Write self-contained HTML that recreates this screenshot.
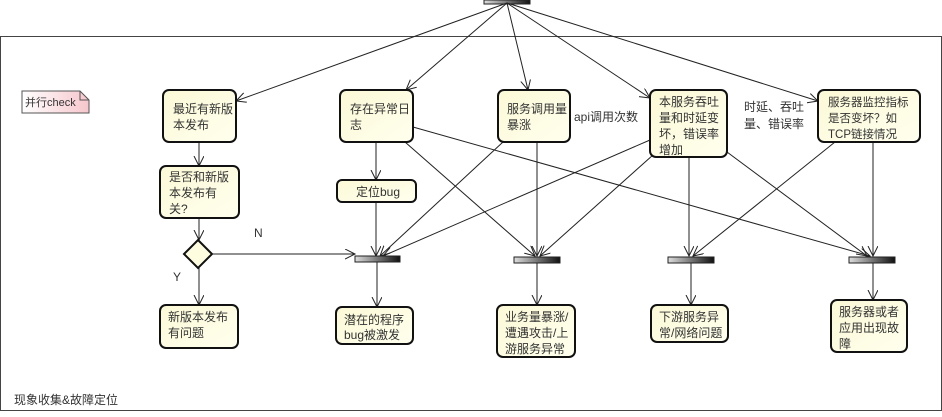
<!DOCTYPE html>
<html><head><meta charset="utf-8"><style>
html,body{margin:0;padding:0;background:#fff;}
svg text{font-family:"Liberation Sans","Noto Sans CJK SC",sans-serif;font-size:12px;fill:#333;}
</style></head><body>
<svg width="942" height="412" xmlns="http://www.w3.org/2000/svg">
<defs>
<linearGradient id="bx" x1="0" y1="0" x2="1" y2="1"><stop offset="0" stop-color="#fbf9d6"/><stop offset="1" stop-color="#ffffee"/></linearGradient>
<linearGradient id="bar" x1="0" y1="0" x2="1" y2="0"><stop offset="0" stop-color="#ddd"/><stop offset="1" stop-color="#111"/></linearGradient>
<linearGradient id="nt" x1="0" y1="0" x2="1" y2="0"><stop offset="0" stop-color="#fff"/><stop offset="1" stop-color="#f6c6cc"/></linearGradient>
<marker id="a" markerWidth="12" markerHeight="12" refX="10" refY="5" orient="auto" markerUnits="userSpaceOnUse"><path d="M0,0 L10,5 L0,10" fill="none" stroke="#222" stroke-width="1"/></marker>
</defs>
<rect x="0.5" y="36.5" width="941" height="374" fill="#fff" stroke="#444"/>
<rect x="484" y="0" width="46" height="4" fill="url(#bar)" stroke="#222"/>
<g stroke="#222" stroke-width="1" fill="none" marker-end="url(#a)">
<line x1="507" y1="3" x2="236" y2="101"/>
<line x1="507" y1="3" x2="406" y2="90"/>
<line x1="507" y1="3" x2="528" y2="90"/>
<line x1="507" y1="3" x2="650" y2="98"/>
<line x1="507" y1="3" x2="818" y2="101"/>
<line x1="199" y1="142" x2="199" y2="166"/>
<line x1="199" y1="218" x2="199" y2="240"/>
<line x1="212" y1="254" x2="355" y2="254"/>
<line x1="199" y1="268" x2="199" y2="305"/>
<line x1="376" y1="142" x2="376" y2="180"/>
<line x1="376" y1="202" x2="376" y2="256"/>
<line x1="413" y1="127" x2="870" y2="256"/>
<line x1="405" y1="142" x2="535" y2="256"/>
<line x1="503" y1="142" x2="380" y2="256"/>
<line x1="537" y1="142" x2="537" y2="256"/>
<line x1="650" y1="140" x2="383" y2="256"/>
<line x1="653" y1="155" x2="540" y2="256"/>
<line x1="689" y1="157" x2="689" y2="256"/>
<line x1="727" y1="152" x2="867" y2="256"/>
<line x1="835" y1="142" x2="693" y2="256"/>
<line x1="873" y1="142" x2="873" y2="256"/>
<line x1="377" y1="262" x2="377" y2="307"/>
<line x1="537" y1="263" x2="537" y2="305"/>
<line x1="691" y1="263" x2="691" y2="305"/>
<line x1="873" y1="263" x2="873" y2="300"/>
</g>
<g stroke="#222" fill="url(#bar)">
<rect x="355" y="256" width="45" height="6"/>
<rect x="514" y="257" width="46" height="6"/>
<rect x="668" y="257" width="46" height="6"/>
<rect x="849" y="257" width="46" height="6"/>
</g>
<path d="M22,91 L80,91 L89,100 L89,113 L22,113 Z" fill="url(#nt)" stroke="#555"/>
<path d="M80,91 L80,100 L89,100" fill="none" stroke="#555"/>
<text x="25" y="106" style="font-size:11px">并行check</text>
<g stroke="#111" stroke-width="2" fill="url(#bx)">
<rect x="163" y="90" width="73" height="52" rx="6"/>
<rect x="340" y="90" width="73" height="52" rx="6"/>
<rect x="498" y="90" width="72" height="52" rx="6"/>
<rect x="650" y="90" width="77" height="67" rx="6"/>
<rect x="818" y="90" width="102" height="52" rx="6"/>
<rect x="160" y="166" width="79" height="52" rx="6"/>
<rect x="337" y="180" width="79" height="22" rx="5"/>
<rect x="160" y="305" width="78" height="43" rx="6"/>
<rect x="336" y="307" width="77" height="37" rx="6"/>
<rect x="497" y="305" width="78" height="52" rx="6"/>
<rect x="651" y="305" width="77" height="37" rx="6"/>
<rect x="831" y="300" width="76" height="52" rx="6"/>
</g>
<path d="M198,240 L212,254 L198,268 L184,254 Z" fill="#fffde0" stroke="#111" stroke-width="2"/>
<text x="173" y="113">最近有新版</text><text x="173" y="129">本发布</text>
<text x="350" y="113">存在异常日</text><text x="350" y="129">志</text>
<text x="507" y="113">服务调用量</text><text x="507" y="129">暴涨</text>
<text x="574" y="121">api调用次数</text>
<text x="659" y="106">本服务吞吐</text><text x="659" y="122">量和时延变</text><text x="659" y="138">坏，错误率</text><text x="659" y="154">增加</text>
<text x="744" y="111">时延、吞吐</text><text x="744" y="128">量、错误率</text>
<g style="font-size:11.5px"><text x="828" y="106" style="font-size:11.5px">服务器监控指标</text><text x="828" y="122" style="font-size:11.5px">是否变坏？如</text><text x="828" y="138" style="font-size:11.5px">TCP链接情况</text></g>
<text x="169" y="181">是否和新版</text><text x="169" y="197">本发布有</text><text x="169" y="213">关?</text>
<text x="356" y="196">定位bug</text>
<text x="254" y="237">N</text><text x="173" y="281">Y</text>
<text x="168" y="321">新版本发布</text><text x="168" y="337">有问题</text>
<text x="344" y="324">潜在的程序</text><text x="344" y="339">bug被激发</text>
<text x="505" y="321">业务量暴涨/</text><text x="505" y="337">遭遇攻击/上</text><text x="505" y="353">游服务异常</text>
<text x="659" y="321">下游服务异</text><text x="659" y="337">常/网络问题</text>
<text x="839" y="316">服务器或者</text><text x="839" y="332">应用出现故</text><text x="839" y="348">障</text>
<text x="14" y="404">现象收集&amp;故障定位</text>
</svg>
</body></html>
